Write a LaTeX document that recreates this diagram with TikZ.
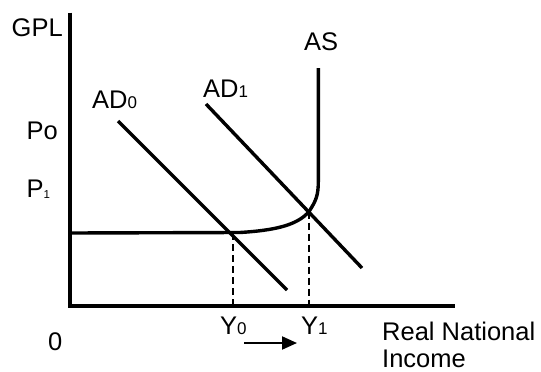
\documentclass[tikz,border=0pt]{standalone}
\usepackage{fontspec}
\setmainfont{Liberation Sans}
\usetikzlibrary{arrows.meta}
\newcommand{\sbig}[1]{{\fontsize{17}{17}\selectfont #1}}
\newcommand{\ssmall}[1]{\raisebox{-1.5pt}{\fontsize{11.5}{11.5}\selectfont #1}}
\begin{document}
\begin{tikzpicture}[x=1pt,y=-1pt,
  lbl/.style={anchor=base west,inner sep=0pt,font=\fontsize{25.5}{25.5}\selectfont},
  axisline/.style={line width=4pt},
  curveline/.style={line width=3.4pt},
  guide/.style={line width=2pt,dash pattern=on 7pt off 4pt}]
\useasboundingbox (0,0) rectangle (541,372);
% coordinates
\coordinate (top) at (70,12.5);
\coordinate (orig) at (70,306);
\coordinate (right) at (455,306);
\coordinate (asL) at (70,233);
\coordinate (asK) at (240,232.5);
\coordinate (e1) at (309,211.5);
\coordinate (asB) at (318.3,182);
\coordinate (asT) at (318.3,68);
\coordinate (ad0a) at (118,121);
\coordinate (ad0b) at (287,290);
\coordinate (ad1a) at (206,104);
\coordinate (ad1b) at (362,268);
\coordinate (e0) at (232.5,233);
\coordinate (y0) at (232.5,306);
\coordinate (y1) at (309,306);
\coordinate (arA) at (244,343);
\coordinate (arB) at (297,343);
% axes
\draw[axisline] (top) -- (orig) -- (right);
% AS
\draw[curveline] (asL) -- (asK) .. controls (272,230.5) and (297,226) .. (e1)
   .. controls (316,201) and (318.3,195) .. (asB) -- (asT);
% AD
\draw[curveline] (ad0a) -- (ad0b);
\draw[curveline] (ad1a) -- (ad1b);
% guides
\draw[guide] (e0) -- (y0);
\draw[guide] (e1) -- (y1);
% arrow
\draw[line width=2pt,-{Triangle[length=15pt,width=13pt]}] (arA) -- (arB);
% labels
\node[lbl] (gpl) at (11.5,36) {GPL};
\node[lbl] (po) at (26.5,139.5) {Po};
\node[lbl] (p1) at (26.5,197) {P\ssmall{1}};
\node[lbl] (lad0) at (92,108) {AD\sbig{0}};
\node[lbl] (lad1) at (203,97) {AD\sbig{1}};
\node[lbl] (las) at (304,50) {AS};
\node[lbl] (zero) at (48,350) {0};
\node[lbl] (ly0) at (220,334) {Y\sbig{0}};
\node[lbl] (ly1) at (301,334) {Y\sbig{1}};
\node[lbl] (rni) at (382,340) {Real National};
\node[lbl] (inc) at (382,367) {Income};
\end{tikzpicture}
\end{document}
